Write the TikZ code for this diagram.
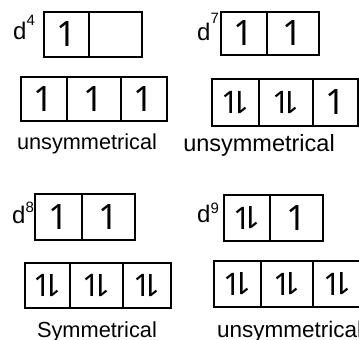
\documentclass[tikz,border=0pt]{standalone}
\usepackage{fontspec}
\usepackage{graphicx}
\setmainfont{Liberation Sans}
\newfontfamily\onefont{Noto Sans}
\newcommand{\digitfont}{\onefont\fontsize{35}{35}\selectfont}
\newcommand{\updn}{{\onefont\fontsize{31}{31}\selectfont 1\kern-0.27em\rotatebox[origin=c]{180}{1}}}
\newcommand{\dlab}[2]{{\fontsize{24}{24}\selectfont d\raisebox{#2pt}{\fontsize{15}{15}\selectfont #1}}}
\tikzset{
  cell/.style={draw, line width=1.6pt, inner sep=0pt, font=\digitfont},
  dtext/.style={anchor=base west, inner sep=0pt},
  caption/.style={anchor=base, inner sep=0pt}
}
\begin{document}
\begin{tikzpicture}[x=1pt,y=-1pt]
\useasboundingbox (0,0) rectangle (359,340);
% panel 1: d4
\node[dtext] (d4) at (13,39) {\dlab{4}{14}};
\node[cell, minimum width=45pt, minimum height=45pt] (a1) at (66.5,34.5) {1};
\node[cell, minimum width=53pt, minimum height=45pt] (a2) at (115.5,34.5) {};
\node[cell, minimum width=46pt, minimum height=44pt] (a3) at (44,99) {1};
\node[cell, minimum width=54pt, minimum height=44pt] (a4) at (94,99) {1};
\node[cell, minimum width=46pt, minimum height=44pt] (a5) at (144,99) {1};
\node[caption, font=\fontsize{21.7}{22}\selectfont] (t1) at (87,149) {unsymmetrical};
% panel 2: d7
\node[dtext] (d7) at (197,40) {\dlab{7}{17}};
\node[cell, minimum width=46pt, minimum height=43pt] (b1) at (244,33.5) {1};
\node[cell, minimum width=52pt, minimum height=43pt] (b2) at (293,33.5) {1};
\node[cell, minimum width=47pt, minimum height=47pt] (b3) at (235.5,102.5) {\updn};
\node[cell, minimum width=54pt, minimum height=47pt] (b4) at (286,102.5) {\updn};
\node[cell, minimum width=45pt, minimum height=47pt] (b5) at (335.5,102.5) {1};
\node[caption, font=\fontsize{23.5}{24}\selectfont] (t2) at (259,151) {unsymmetrical};
% panel 3: d8
\node[dtext] (d8) at (12,223) {\dlab{8}{11}};
\node[cell, minimum width=47pt, minimum height=46pt] (c1) at (58.5,217) {1};
\node[cell, minimum width=53pt, minimum height=46pt] (c2) at (108.5,217) {1};
\node[cell, minimum width=45pt, minimum height=45pt] (c3) at (47.5,285.5) {\updn};
\node[cell, minimum width=53pt, minimum height=45pt] (c4) at (96.5,285.5) {\updn};
\node[cell, minimum width=48pt, minimum height=45pt] (c5) at (147,285.5) {\updn};
\node[caption, font=\fontsize{21.8}{22}\selectfont] (t3) at (97,337) {Symmetrical};
% panel 4: d9
\node[dtext] (d9) at (197,222) {\dlab{9}{9}};
\node[cell, minimum width=46pt, minimum height=46pt] (e1) at (247,218) {\updn};
\node[cell, minimum width=53pt, minimum height=46pt] (e2) at (296.5,218) {1};
\node[cell, minimum width=47pt, minimum height=46pt] (e3) at (237.5,284) {\updn};
\node[cell, minimum width=52pt, minimum height=46pt] (e4) at (287,284) {\updn};
\node[cell, minimum width=49pt, minimum height=46pt] (e5) at (337.5,284) {\updn};
\node[anchor=base west, inner sep=0pt, font=\fontsize{22.5}{23}\selectfont] (t4) at (217,337) {unsymmetrical};
\end{tikzpicture}
\end{document}
